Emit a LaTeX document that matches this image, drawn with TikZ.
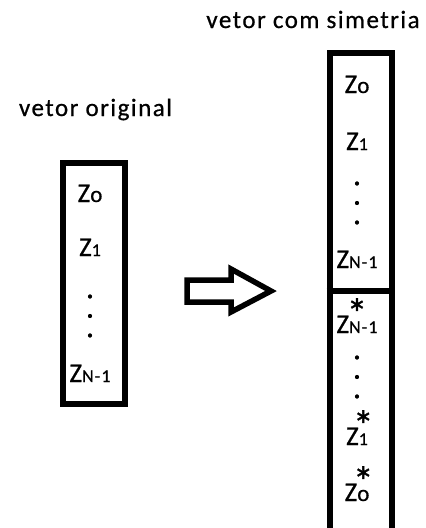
\documentclass[tikz,border=0pt]{standalone}
\usepackage{fontspec}
\setmainfont[FakeBold=0.7]{Carlito}
\newcommand{\zsubsize}{\fontsize{18}{18}\selectfont\addfontfeature{LetterSpace=6}}
\newcommand{\zl}[1]{Z{\zsubsize #1}}
\newcommand{\zstar}{\raisebox{5pt}{\fontsize{42}{42}\selectfont *}}
\newcommand{\zs}[1]{Z{\zsubsize\ooalign{#1\cr\hidewidth\zstar\hidewidth\cr}}}
\newcommand{\zsw}[1]{\ooalign{Z{\zsubsize #1}\cr\hidewidth\zstar\hidewidth\cr}}
\begin{document}
\begin{tikzpicture}[x=1pt,y=-1pt,
  vbox/.style={draw=black,line width=6.5pt,line join=miter},
  title/.style={font=\fontsize{25}{25}\selectfont\addfontfeature{LetterSpace=6},anchor=base,inner sep=0pt},
  entry/.style={font=\fontsize{27}{27}\selectfont,anchor=base,inner sep=0pt},
  dotlbl/.style={font=\fontsize{26}{19.5}\selectfont\bfseries,align=center,anchor=center,inner sep=0pt}]
\useasboundingbox (0,0) rectangle (426,528);
\begin{scope}
\clip (0,0) rectangle (426,528);
% titles
\node[title] (t1) at (95.5,116) {vetor original};
\node[title] (t2) at (313,28) {vetor com simetria};
% left box
\node[vbox,minimum width=62pt,minimum height=241pt,inner sep=0pt,anchor=north west] (lb) at (59.5,159.5) {};
\node[entry] (l0) at (90,202) {Z{\fontsize{23}{23}\selectfont o}};
\node[entry] (l1) at (90,256) {\zl{1}};
\node[dotlbl] (ld) at (90,316) {.\\.\\.};
\node[entry] (ln) at (90,382) {\zl{N-1}};
% right box
\node[vbox,minimum width=62pt,minimum height=520pt,inner sep=0pt,anchor=north west] (rb) at (326.5,49.5) {};
\draw[vbox] (rb.west |- 0,291) coordinate (dl) -- (rb.east |- 0,291) coordinate (dr);
\node[entry] (r0) at (357,93) {Z{\fontsize{23}{23}\selectfont o}};
\node[entry] (r1) at (357,150) {\zl{1}};
\node[dotlbl] (rd1) at (357,203) {.\\.\\.};
\node[entry] (rn) at (357,268) {\zl{N-1}};
\node[entry] (sn) at (357,333) {\zsw{N-1}};
\node[dotlbl] (rd2) at (357,377) {.\\.\\.};
\node[entry] (s1) at (357,445) {\zs{1}};
\node[entry] (s0) at (357,501) {Z{\fontsize{23}{23}\selectfont\ooalign{o\cr\hidewidth\zstar\hidewidth\cr}}};
% arrow
\draw[line width=5.5pt,line join=miter] (187,280) -- (231,280) -- (231,269) -- (271,291) -- (231,312) -- (231,302) -- (187,302) -- cycle;
\end{scope}
\end{tikzpicture}
\end{document}
